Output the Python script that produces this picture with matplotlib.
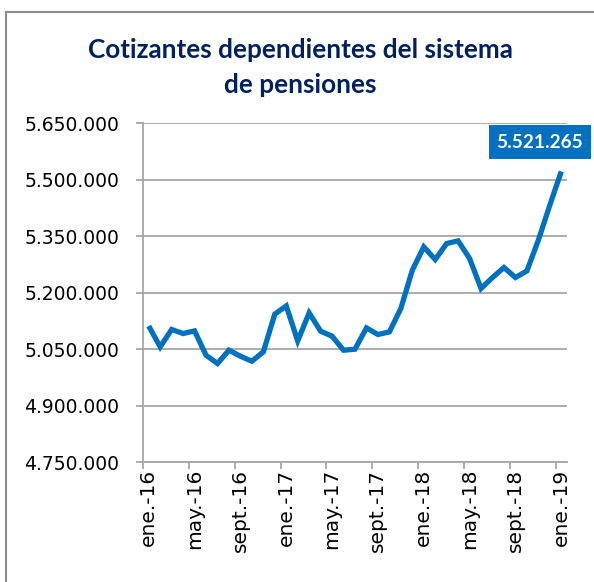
import matplotlib
matplotlib.use("Agg")
import matplotlib.pyplot as plt
from matplotlib.ticker import FuncFormatter, FixedLocator
from matplotlib.lines import Line2D
from matplotlib.patches import Rectangle

# meses de ene-16 a ene-19 (37 puntos)
meses = ["ene.-16", "feb.-16", "mar.-16", "abr.-16", "may.-16", "jun.-16", "jul.-16", "ago.-16",
         "sept.-16", "oct.-16", "nov.-16", "dic.-16",
         "ene.-17", "feb.-17", "mar.-17", "abr.-17", "may.-17", "jun.-17", "jul.-17", "ago.-17",
         "sept.-17", "oct.-17", "nov.-17", "dic.-17",
         "ene.-18", "feb.-18", "mar.-18", "abr.-18", "may.-18", "jun.-18", "jul.-18", "ago.-18",
         "sept.-18", "oct.-18", "nov.-18", "dic.-18",
         "ene.-19"]
cotizantes = [5111000, 5055600, 5101800, 5091100, 5098000, 5033500, 5011500, 5046800,
              5030900, 5017600, 5042300, 5142400,
              5164400, 5071500, 5145800, 5097300, 5084000, 5046800, 5049500, 5106000,
              5088500, 5095400, 5157500, 5259200,
              5321100, 5287600, 5330100, 5337000, 5290300, 5210600, 5239800, 5266400,
              5239800, 5257300, 5338900, 5431800,
              5521265]
etiqueta_ultimo = "5.521.265"

azul = "#0070c0"
gris = "#a6a6a6"

fig = plt.figure(figsize=(5.94, 5.82), dpi=100)
ax = fig.add_axes([143 / 594, 1 - 462 / 582, 424 / 594, 339 / 582])

x = list(range(len(cotizantes)))
ax.plot(x, cotizantes, color=azul, lw=3.8, solid_joinstyle="miter", solid_capstyle="butt")

ax.set_xlim(-0.5, len(cotizantes) - 0.5)
ax.set_ylim(4750000, 5650000)
ax.set_yticks(range(4750000, 5650001, 150000))
ax.yaxis.set_major_formatter(FuncFormatter(lambda v, p: f"{int(v):,}".replace(",", ".")))
ax.grid(axis="y", color=gris, lw=1.3)
ax.set_axisbelow(True)

# etiquetas cada 4 meses, marcas en los bordes de categoría
lab_pos = x[::4]
ax.set_xticks(lab_pos)
ax.set_xticklabels([meses[i] for i in lab_pos], rotation=90, va="top", ha="center")
ax.xaxis.set_minor_locator(FixedLocator([i - 0.5 for i in lab_pos]))
ax.tick_params(axis="x", which="major", length=0, pad=5, labelsize=14.5)
ax.tick_params(axis="x", which="minor", length=5, width=1.3, color=gris)
ax.tick_params(axis="y", length=5, width=1.3, color=gris, pad=12, labelsize=13.5)

for s in ["top", "right"]:
    ax.spines[s].set_visible(False)
for s in ["left", "bottom"]:
    ax.spines[s].set_color(gris)
    ax.spines[s].set_linewidth(1.3)

# recuadro con el último valor
fig.add_artist(Rectangle((489 / 594, 1 - 159 / 582), 102 / 594, 34 / 582,
                         transform=fig.transFigure, fc=azul, ec="none"))
fig.text(540 / 594, 1 - 142 / 582, etiqueta_ultimo, ha="center", va="center",
         fontsize=13.7, fontweight="bold", color="white", family="Lato")

titulo_color = "#002060"
fig.text(300 / 594, 1 - 58 / 582, "Cotizantes dependientes del sistema", ha="center",
         va="baseline", fontsize=18.8, fontweight="bold", color=titulo_color, family="Lato")
fig.text(300 / 594, 1 - 93 / 582, "de pensiones", ha="center",
         va="baseline", fontsize=18.8, fontweight="bold", color=titulo_color, family="Lato")

# marco del gráfico
borde = dict(color="#8c8c8c", lw=1.5, transform=fig.transFigure)
fig.add_artist(Line2D([6 / 594, 6 / 594], [0, 1 - 12 / 582], **borde))
fig.add_artist(Line2D([6 / 594, 593 / 594], [1 - 12 / 582, 1 - 12 / 582], **borde))

fig.savefig("out.png", dpi=100)
